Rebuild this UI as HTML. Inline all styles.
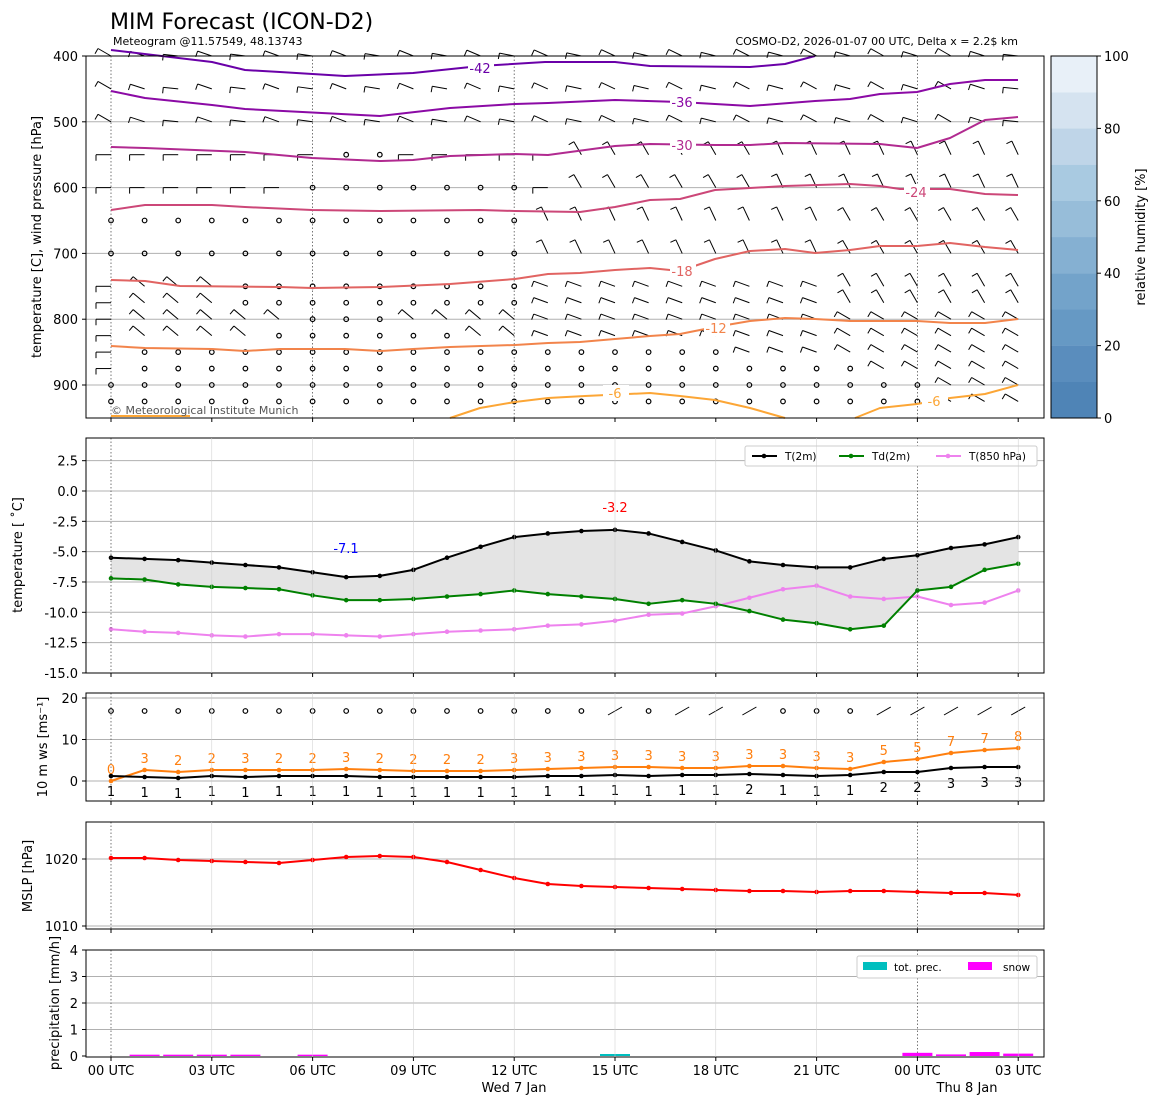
<!DOCTYPE html>
<html><head><meta charset="utf-8">
<style>
html,body{margin:0;padding:0;background:#fff;}
svg text{font-family:"DejaVu Sans","Liberation Sans",sans-serif;}
</style></head>
<body>
<svg id="s" width="1159" height="1105" xmlns="http://www.w3.org/2000/svg" font-family="DejaVu Sans, Liberation Sans, sans-serif">
<rect width="1159" height="1105" fill="#fff"/>
<text x="110" y="29" font-size="22">MIM Forecast (ICON-D2)</text>
<text x="113" y="45" font-size="11">Meteogram @11.57549, 48.13743</text>
<text x="1018" y="45" font-size="11" text-anchor="end">COSMO-D2, 2026-01-07 00 UTC, Delta x = 2.2$ km</text>
<g id="g"></g>
</svg>
<script>
const NS="http://www.w3.org/2000/svg",G=document.getElementById('g');
function el(t,a,txt){const e=document.createElementNS(NS,t);for(const k in a)e.setAttribute(k,a[k]);if(txt!==undefined)e.textContent=txt;G.appendChild(e);return e;}
const X=h=>111+h*33.6;
const L=86,R=1044;
function pts(xs,ys){return xs.map((x,i)=>x+','+ys[i]).join(' ');}
function line(xs,ys,c,w,extra){return el('polyline',Object.assign({points:pts(xs,ys),fill:'none',stroke:c,'stroke-width':w||1.5,'stroke-linejoin':'round'},extra||{}));}
function txt(x,y,s,o){return el('text',Object.assign({x:x,y:y,'font-size':13},o||{}),s);}
const H=[...Array(28).keys()];
// ---------- panel 1 ----------
const p1t=56,p1b=418;
const PY=p=>56+(p-400)*0.658;
[500,600,700,800,900].forEach(p=>el('line',{x1:L,x2:R,y1:PY(p),y2:PY(p),stroke:'#b0b0b0','stroke-width':1}));
[0,6,12,24].forEach(h=>el('line',{x1:X(h),x2:X(h),y1:p1t,y2:p1b,stroke:'#555','stroke-width':0.8,'stroke-dasharray':'1.5,2'}));
const levels=[400,450,500,550,600,650,700,750,775,800,825,850,875,900,925];
function calm(h,p){
 if(p==550)return h==7||h==8;
 if(p==600)return h>=6&&h<=12;
 if(p==650||p==700)return h<=12;
 if(p==750||p==775)return h>=4&&h<=12;
 if(p==800)return h>=6&&h<=8;
 if(p==825)return h>=5&&h<=10;
 if(p==850)return h>=1&&h<=18;
 if(p==875)return h>=1&&h<=22;
 if(p>=900)return h<=24;
 return false;}
levels.forEach(p=>{H.forEach(h=>{const x=X(h),y=PY(p);
 if(calm(h,p)){el('circle',{cx:x,cy:y,r:2.3,fill:'none',stroke:'#000','stroke-width':1.2});return;}
 let ang;
 if(p<=500)ang=150+((h*37+p)%25);
 else if(p<=600)ang=h<14?180:(h<20?120:115);
 else if(h<13)ang=(h==0?180:140);
 else ang=h<22?(p<750?115:160):(p<800?120:150);
 const a=ang*Math.PI/180,len=15;
 const x2=x+Math.cos(a)*len,y2=y-Math.sin(a)*len;
 el('line',{x1:x,y1:y,x2:x2,y2:y2,stroke:'#000','stroke-width':1});
 const b=a+Math.PI/2;
 el('line',{x1:x2,y1:y2,x2:x2+Math.cos(b)*6,y2:y2-Math.sin(b)*6,stroke:'#000','stroke-width':1});
});});
const C=[
 ['#6a00a8',[111,212,245,280,345,413,480,545,615,650,750,785,815],[50,62,70,72,76,73,66,62,62,66,67,64,56],'-42',480,68],
 ['#8b0aa5',[111,145,212,245,380,450,515,548,615,680,750,815,850,880,917,950,985,1018],[91,98,105,109,116,108,104,103,100,102,106,101,99,94,92,84,80,80],'-36',682,102],
 ['#b12a90',[111,145,245,312,380,413,450,515,548,585,615,650,715,750,785,880,917,950,985,1018],[147,148,152,158,161,160,156,154,155,150,146,144,145,145,143,144,148,138,120,117],'-30',682,145],
 ['#cc4778',[111,145,212,245,312,380,480,515,580,615,650,680,715,785,850,880,900,950,985,1018],[210,205,205,207,210,211,210,211,212,207,200,199,190,186,184,186,189,189,194,195],'-24',916,192],
 ['#e16462',[111,145,180,280,312,380,450,515,548,580,615,650,680,715,750,785,815,850,880,917,950,985,1018],[280,281,286,287,288,287,284,279,274,273,270,268,271,259,251,249,253,250,246,246,243,247,250],'-18',682,271],
 ['#f2844b',[111,145,212,245,280,345,380,413,450,515,548,580,615,650,680,715,750,785,815,850,917,950,985,1018],[346,348,349,351,349,349,351,349,347,345,343,342,339,336,334,327,321,318,319,321,321,323,323,319],'-12',716,328],
 ['#fca636',[450,480,515,548,585,650,680,715,750,785],[418,408,402,398,396,393,396,400,408,418],'-6',615,393],
 ['#fca636',[855,880,917,950,985,1018],[418,408,404,398,394,385],'-6',934,401],
 ['#fca636',[111,190],[416,416],null]
];
C.forEach(c=>{line(c[1],c[2],c[0],2);if(c[3]){el('rect',{x:c[4]-12,y:c[5]-8,width:26,height:16,fill:'#fff'});txt(c[4],c[5]+5,c[3],{fill:c[0],'text-anchor':'middle'});}});
el('rect',{x:L,y:p1t,width:R-L,height:p1b-p1t,fill:'none',stroke:'#000','stroke-width':1});
txt(111,414,'© Meteorological Institute Munich',{'font-size':11,fill:'#555'});
[400,500,600,700,800,900].forEach(p=>{el('line',{x1:L-4,x2:L,y1:PY(p),y2:PY(p),stroke:'#000'});txt(L-8,PY(p)+5,p,{'text-anchor':'end'});});
txt(41,237,'temperature [C], wind pressure [hPa]',{transform:'rotate(-90 41 237)','text-anchor':'middle'});
const cols=['#4f84b6','#5a8dbd','#6699c4','#73a3ca','#85b0d2','#97bdd9','#a9cae1','#bfd5e8','#d5e3f0','#e8f0f8','#f6f9fd'];
for(let i=0;i<10;i++){const y0=418-(i+1)*36.2;el('rect',{x:1051,y:y0,width:46,height:36.4,fill:cols[i]});}
el('rect',{x:1051,y:56,width:46,height:362,fill:'none',stroke:'#000'});
[0,20,40,60,80,100].forEach(v=>{const y=418-v*3.62;el('line',{x1:1097,x2:1101,y1:y,y2:y,stroke:'#000'});txt(1104,y+5,v);});
txt(1145,237,'relative humidity [%]',{transform:'rotate(-90 1145 237)','text-anchor':'middle'});
// ---------- panel 2 ----------
const p2t=438,p2b=673,TY=v=>491-v*12.13;
[2.5,0,-2.5,-5,-7.5,-10,-12.5].forEach(v=>el('line',{x1:L,x2:R,y1:TY(v),y2:TY(v),stroke:'#b0b0b0'}));
const T=[-5.5,-5.6,-5.7,-5.9,-6.1,-6.3,-6.7,-7.1,-7.0,-6.5,-5.5,-4.6,-3.8,-3.5,-3.3,-3.2,-3.5,-4.2,-4.9,-5.8,-6.1,-6.3,-6.3,-5.6,-5.3,-4.7,-4.4,-3.8];
const Td=[-7.2,-7.3,-7.7,-7.9,-8.0,-8.1,-8.6,-9.0,-9.0,-8.9,-8.7,-8.5,-8.2,-8.5,-8.7,-8.9,-9.3,-9.0,-9.3,-9.9,-10.6,-10.9,-11.4,-11.1,-8.2,-7.9,-6.5,-6.0];
const T8=[-11.4,-11.6,-11.7,-11.9,-12.0,-11.8,-11.8,-11.9,-12.0,-11.8,-11.6,-11.5,-11.4,-11.1,-11.0,-10.7,-10.2,-10.1,-9.5,-8.8,-8.1,-7.8,-8.7,-8.9,-8.7,-9.4,-9.2,-8.2];
const xs=H.map(X);
el('polygon',{points:pts(xs,T.map(TY))+' '+pts(xs.slice().reverse(),Td.map(TY).reverse()),fill:'#e4e4e4'});
[[T8,'#ee82ee'],[Td,'#008000'],[T,'#000']].forEach(s=>{line(xs,s[0].map(TY),s[1],2);xs.forEach((x,i)=>el('circle',{cx:x,cy:TY(s[0][i]),r:2.3,fill:s[1]}));});
[0,24].forEach(h=>el('line',{x1:X(h),x2:X(h),y1:p2t,y2:p2b,stroke:'#555','stroke-width':0.8,'stroke-dasharray':'1.5,2'}));
txt(346,553,'-7.1',{fill:'#00f','text-anchor':'middle'});
txt(615,512,'-3.2',{fill:'#f00','text-anchor':'middle'});
el('rect',{x:745,y:446,width:292,height:20,fill:'#fff',stroke:'#ccc',rx:2});
[[752,'#000','T(2m)'],[839,'#008000','Td(2m)'],[936,'#ee82ee','T(850 hPa)']].forEach(l=>{el('line',{x1:l[0],x2:l[0]+25,y1:456,y2:456,stroke:l[1],'stroke-width':2});el('circle',{cx:l[0]+12,cy:456,r:2.3,fill:l[1]});txt(l[0]+33,460,l[2],{'font-size':10.5});});
el('rect',{x:L,y:p2t,width:R-L,height:p2b-p2t,fill:'none',stroke:'#000'});
[2.5,0,-2.5,-5,-7.5,-10,-12.5,-15].forEach(v=>{el('line',{x1:L-4,x2:L,y1:TY(v),y2:TY(v),stroke:'#000'});txt(L-8,TY(v)+5,v.toFixed(1),{'text-anchor':'end'});});
txt(22,555,'temperature [ ˚C]',{transform:'rotate(-90 22 555)','text-anchor':'middle'});
// ---------- panel 3 ----------
const p3t=693,p3b=801,WY=v=>781-v*4.15;
[20,10,0].forEach(v=>el('line',{x1:L,x2:R,y1:WY(v),y2:WY(v),stroke:'#b0b0b0'}));
[0,24].forEach(h=>el('line',{x1:X(h),x2:X(h),y1:p3t,y2:p3b,stroke:'#555','stroke-width':0.8,'stroke-dasharray':'1.5,2'}));
const gy=[781,770,772,770,770,770,770,769,770,771,771,771,770,769,768,767,767,768,768,766,766,768,769,762,759,753,750,748];
const gl=[0,3,2,2,3,2,2,3,2,2,2,2,3,3,3,3,3,3,3,3,3,3,3,5,5,7,7,8];
const wy=[776,777,778,776,777,776,776,776,777,777,777,777,777,776,776,775,776,775,775,774,775,776,775,772,772,768,767,767];
const wl=[1,1,1,1,1,1,1,1,1,1,1,1,1,1,1,1,1,1,1,2,1,1,1,2,2,3,3,3];
line(xs,gy,'#ff7f0e',2);xs.forEach((x,i)=>{el('circle',{cx:x,cy:gy[i],r:2.3,fill:'#ff7f0e'});txt(x,gy[i]-7,gl[i],{fill:'#ff7f0e','text-anchor':'middle'});});
line(xs,wy,'#000',2);xs.forEach((x,i)=>{el('circle',{cx:x,cy:wy[i],r:2.3,fill:'#000'});txt(x,wy[i]+20,wl[i],{'text-anchor':'middle'});});
H.forEach(h=>{const x=X(h),y=711;if(h<=22&&!(h>=17&&h<=19)&&h!=15){el('circle',{cx:x,cy:y,r:2.3,fill:'none',stroke:'#000','stroke-width':1.2});}else{el('line',{x1:x-7,y1:y+4,x2:x+7,y2:y-4,stroke:'#000'});}});
el('rect',{x:L,y:p3t,width:R-L,height:p3b-p3t,fill:'none',stroke:'#000'});
[20,10,0].forEach(v=>{el('line',{x1:L-4,x2:L,y1:WY(v),y2:WY(v),stroke:'#000'});txt(L-8,WY(v)+5,v,{'text-anchor':'end'});});
txt(47,747,'10 m ws [ms⁻¹]',{transform:'rotate(-90 47 747)','text-anchor':'middle'});
// ---------- panel 4 ----------
const p4t=822,p4b=929;
[859,926].forEach(y=>el('line',{x1:L,x2:R,y1:y,y2:y,stroke:'#b0b0b0'}));
[0,24].forEach(h=>el('line',{x1:X(h),x2:X(h),y1:p4t,y2:p4b,stroke:'#555','stroke-width':0.8,'stroke-dasharray':'1.5,2'}));
const my=[858,858,860,861,862,863,860,857,856,857,862,870,878,884,886,887,888,889,890,891,891,892,891,891,892,893,893,895];
line(xs,my,'#f00',2);xs.forEach((x,i)=>el('circle',{cx:x,cy:my[i],r:2.3,fill:'#f00'}));
el('rect',{x:L,y:p4t,width:R-L,height:p4b-p4t,fill:'none',stroke:'#000'});
[[859,'1020'],[926,'1010']].forEach(t=>{el('line',{x1:L-4,x2:L,y1:t[0],y2:t[0],stroke:'#000'});txt(L-8,t[0]+5,t[1],{'text-anchor':'end'});});
txt(32,876,'MSLP [hPa]',{transform:'rotate(-90 32 876)','text-anchor':'middle'});
// ---------- panel 5 ----------
const p5t=950,p5b=1057,RY=v=>1056-v*26.5;
[1,2,3].forEach(v=>el('line',{x1:L,x2:R,y1:RY(v),y2:RY(v),stroke:'#b0b0b0'}));
[0,24].forEach(h=>el('line',{x1:X(h),x2:X(h),y1:p5t,y2:p5b,stroke:'#555','stroke-width':0.8,'stroke-dasharray':'1.5,2'}));
[[1,0.05],[2,0.05],[3,0.05],[4,0.05],[6,0.05],[24,0.12],[25,0.06],[26,0.15],[27,0.09]].forEach(b=>el('rect',{x:X(b[0])-15,y:RY(b[1]),width:30,height:1056-RY(b[1]),fill:'#f0f'}));
el('rect',{x:X(15)-15,y:1054,width:30,height:2,fill:'#00bfbf'});
el('rect',{x:857,y:956,width:180,height:22,fill:'#fff',stroke:'#ccc',rx:2});
el('rect',{x:863,y:962,width:24,height:8,fill:'#00bfbf'});txt(894,971,'tot. prec.',{'font-size':10.5});
el('rect',{x:968,y:962,width:24,height:8,fill:'#f0f'});txt(1003,971,'snow',{'font-size':10.5});
el('rect',{x:L,y:p5t,width:R-L,height:p5b-p5t,fill:'none',stroke:'#000'});
[0,1,2,3,4].forEach(v=>{el('line',{x1:L-4,x2:L,y1:RY(v),y2:RY(v),stroke:'#000'});txt(L-8,RY(v)+5,v,{'text-anchor':'end'});});
txt(59,1003,'precipitation [mm/h]',{transform:'rotate(-90 59 1003)','text-anchor':'middle'});
const labs=['00 UTC','03 UTC','06 UTC','09 UTC','12 UTC','15 UTC','18 UTC','21 UTC','00 UTC','03 UTC'];
labs.forEach((s,i)=>{const x=X(i*3);
 [[p2t,p2b],[p3t,p3b],[p4t,p4b],[p5t,p5b]].forEach(p=>{if(i!=0&&i!=8)el('line',{x1:x,x2:x,y1:p[0],y2:p[1],stroke:'#ccc','stroke-width':0.5});});
 [p1b,p2b,p3b,p4b,p5b].forEach(y=>el('line',{x1:x,x2:x,y1:y,y2:y+4,stroke:'#000'}));
 txt(x,1075,s,{'text-anchor':'middle'});});
txt(514,1092,'Wed 7 Jan',{'text-anchor':'middle'});
txt(967,1092,'Thu 8 Jan',{'text-anchor':'middle'});
</script>
</body></html>
